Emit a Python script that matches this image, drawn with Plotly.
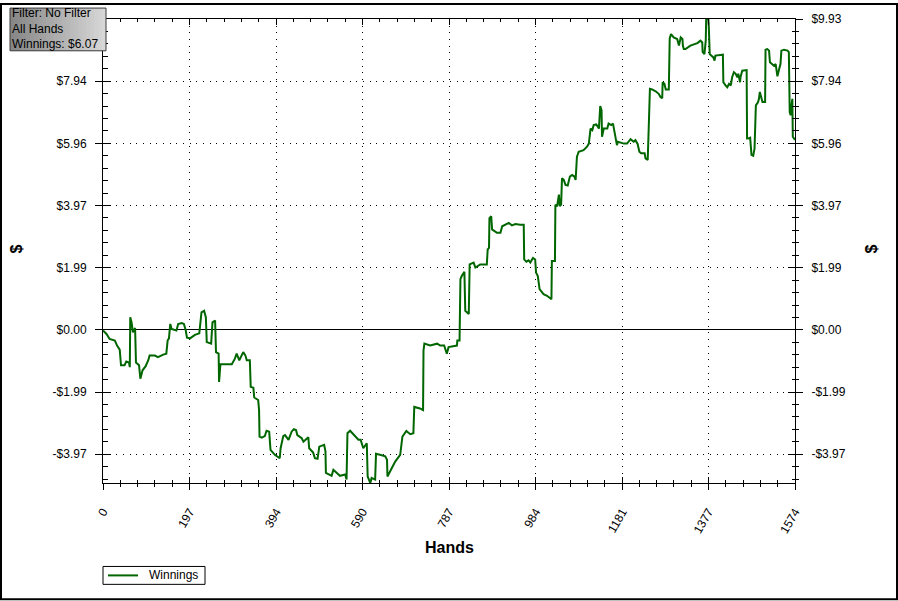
import plotly.graph_objects as go

# ---------------- data ----------------
hands = [0, 8, 15, 27, 32, 38, 41, 49, 53, 59, 61, 62, 65, 68, 73, 75, 82, 85, 90, 97,
         103, 106, 118, 125, 137, 144, 147, 150, 153, 156, 167, 171, 179, 184, 188, 191, 198, 209, 219, 224,
         230, 234, 236, 246, 249, 255, 257, 263, 264, 267, 293, 300, 304, 310, 319, 324, 327, 334, 336, 342,
         344, 353, 355, 356, 361, 368, 372, 378, 381, 391, 402, 404, 410, 414, 422, 429, 434, 439, 442, 452,
         456, 463, 467, 469, 478, 482, 488, 492, 503, 506, 507, 520, 524, 539, 551, 554, 556, 562, 573, 581,
         586, 589, 592, 600, 602, 608, 611, 619, 621, 630, 642, 646, 647, 657, 665, 676, 678, 681, 690, 699,
         706, 708, 721, 728, 729, 731, 744, 760, 767, 776, 782, 786, 805, 806, 811, 813, 816, 822, 824, 832,
         834, 843, 847, 858, 873, 875, 878, 879, 883, 885, 896, 904, 908, 923, 930, 938, 949, 957, 958, 963,
         968, 972, 978, 983, 985, 989, 993, 1002, 1010, 1020, 1021, 1028, 1029, 1033, 1037, 1039, 1042, 1044, 1048, 1052,
         1057, 1062, 1067, 1072, 1075, 1078, 1082, 1093, 1101, 1105, 1109, 1113, 1116, 1122, 1128, 1131, 1134, 1135, 1139, 1147,
         1150, 1156, 1160, 1162, 1164, 1169, 1171, 1185, 1192, 1200, 1207, 1211, 1216, 1220, 1224, 1232, 1234, 1239, 1241, 1244,
         1249, 1257, 1264, 1268, 1272, 1273, 1277, 1280, 1287, 1289, 1292, 1298, 1306, 1310, 1314, 1318, 1319, 1321, 1325, 1336,
         1352, 1359, 1363, 1364, 1368, 1371, 1372, 1377, 1378, 1380, 1384, 1388, 1391, 1393, 1410, 1411, 1416, 1420, 1424, 1428,
         1431, 1435, 1439, 1443, 1445, 1449, 1450, 1454, 1464, 1465, 1467, 1472, 1475, 1479, 1482, 1485, 1490, 1492, 1494, 1498,
         1500, 1506, 1507, 1511, 1515, 1517, 1523, 1526, 1530, 1532, 1534, 1538, 1541, 1543, 1549, 1557, 1560, 1562, 1564, 1566,
         1568, 1569, 1572, 1574]
winnings = [-0.02, -0.13, -0.29, -0.34, -0.50, -0.63, -1.13, -1.13, -1.01, -1.04, -1.19, 0.40, 0.24, -0.08, 0.06, -1.04, -1.13, -1.56, -1.29, -1.16,
            -0.97, -0.82, -0.82, -0.87, -0.79, -0.76, -0.34, -0.27, 0.19, 0.03, -0.02, 0.19, 0.22, 0.19, 0.00, -0.25, -0.27, -0.16, -0.11, 0.56,
            0.61, 0.40, -0.39, -0.44, 0.24, 0.30, -0.71, -0.76, -1.66, -1.10, -1.10, -0.92, -0.76, -0.97, -0.71, -0.82, -0.97, -0.97, -1.82, -1.85,
            -2.16, -2.24, -2.56, -3.41, -3.44, -3.39, -3.22, -3.25, -3.83, -3.99, -4.10, -3.78, -3.39, -3.36, -3.51, -3.25, -3.17, -3.20, -3.36, -3.46,
            -3.57, -3.46, -3.43, -3.78, -3.92, -4.10, -4.12, -3.73, -3.67, -3.88, -4.57, -4.66, -4.47, -4.66, -4.62, -4.78, -3.30, -3.22, -3.39, -3.51,
            -3.51, -3.67, -3.78, -3.62, -4.68, -4.89, -4.73, -4.78, -3.96, -3.99, -4.04, -4.15, -4.68, -4.41, -4.20, -3.99, -3.78, -3.41, -3.23, -3.33,
            -3.30, -2.46, -2.51, -2.56, -0.66, -0.44, -0.50, -0.44, -0.50, -0.50, -0.76, -0.55, -0.50, -0.34, -0.34, 1.62, 1.72, 1.86, 0.61, 0.51,
            2.09, 2.15, 1.99, 2.09, 2.09, 2.57, 2.62, 3.57, 3.63, 3.21, 3.10, 3.10, 3.31, 3.42, 3.34, 3.38, 3.36, 3.36, 2.25, 2.18,
            2.22, 2.15, 2.30, 2.25, 1.83, 1.72, 1.30, 1.14, 1.09, 0.98, 2.20, 2.20, 4.00, 3.95, 4.32, 3.95, 4.00, 4.84, 4.79, 4.63,
            4.61, 4.90, 4.95, 4.90, 4.79, 5.53, 5.69, 5.74, 5.85, 5.95, 6.43, 6.38, 6.54, 6.56, 6.43, 7.15, 7.01, 6.17, 6.43, 6.43,
            6.59, 6.54, 6.59, 6.43, 6.17, 5.90, 6.01, 5.95, 5.95, 6.09, 6.01, 6.06, 5.94, 5.69, 5.64, 5.64, 5.48, 5.43, 6.33, 7.70,
            7.68, 7.62, 7.54, 7.44, 7.40, 7.91, 7.86, 7.68, 7.68, 9.31, 9.45, 9.34, 9.29, 9.08, 9.34, 9.29, 9.08, 8.97, 8.97, 9.08,
            9.16, 9.24, 9.18, 8.87, 8.81, 9.24, 9.93, 9.93, 9.66, 8.81, 8.76, 8.71, 8.60, 8.76, 8.79, 7.91, 7.81, 7.75, 7.86, 7.81,
            8.07, 8.23, 8.18, 8.07, 8.18, 7.91, 8.07, 8.28, 8.30, 6.11, 6.11, 6.14, 5.59, 5.56, 5.80, 7.17, 7.28, 7.38, 7.60, 7.33,
            7.28, 7.28, 8.95, 8.97, 8.92, 8.55, 8.49, 8.44, 8.49, 8.23, 8.10, 8.33, 8.49, 8.92, 8.95, 8.92, 8.87, 6.96, 6.86, 7.17,
            7.38, 6.17, 6.11, 6.07]

x_tick_vals = [0, 197, 394, 590, 787, 984, 1181, 1377, 1574]
x_tick_text = ["0", "197", "394", "590", "787", "984", "1181", "1377", "1574"]
y_tick_vals = [-3.972, -1.986, 0.0, 1.986, 3.972, 5.958, 7.944, 9.93]
y_tick_text = ["-$3.97", "-$1.99", "$0.00", "$1.99", "$3.97", "$5.96", "$7.94", "$9.93"]
x_range = [0, 1574]
y_range = [-4.89, 9.93]
x_minor_step = 39.35
y_minor_step = 0.3972
series_name = "Winnings"
x_title = "Hands"
y_title = "$"
filter_lines = ["Filter: No Filter", "All Hands", "Winnings: $6.07"]

# the top-left label is hidden under the filter box in the original
y_tick_text_left = y_tick_text[:-1] + [""]

# ---------------- layout geometry ----------------
W, H = 898, 601
ML, MR, MT, MB = 103, 103, 16, 118
PW, PH = W - ML - MR, H - MT - MB
FONT = "Liberation Sans, Arial, sans-serif"
GREEN = "#006600"


def fx(px):
    return (px - ML) / PW


def fy(py):
    return (H - MB - py) / PH


fig = go.Figure()
fig.add_trace(go.Scatter(x=hands, y=winnings, mode="lines", name=series_name,
                         line=dict(color=GREEN, width=2), xaxis="x", yaxis="y",
                         hoverinfo="x+y", showlegend=False))
# helper (empty) traces so the extra tick-only axes are drawn
fig.add_trace(go.Scatter(x=[], y=[], xaxis="x2", yaxis="y2", showlegend=False, hoverinfo="skip"))
fig.add_trace(go.Scatter(x=[], y=[], xaxis="x3", yaxis="y3", showlegend=False, hoverinfo="skip"))
fig.add_trace(go.Scatter(x=[], y=[], xaxis="x", yaxis="y4", showlegend=False, hoverinfo="skip"))

tickfont = dict(family=FONT, size=12, color="black")
DOT = "1px,5.67px"

common_x = dict(range=x_range, tickmode="array", tickvals=x_tick_vals, ticktext=x_tick_text,
                tickcolor="black", tickwidth=1, zeroline=False)
common_y = dict(range=y_range, tickmode="array", tickvals=y_tick_vals,
                tickcolor="black", tickwidth=1)

fig.update_layout(
    width=W, height=H,
    margin=dict(l=ML, r=MR, t=MT, b=MB, pad=0),
    paper_bgcolor="white", plot_bgcolor="white",
    font=dict(family=FONT, size=12, color="black"),
    showlegend=False,
    xaxis=dict(**common_x, side="bottom", ticks="outside", ticklen=6,
               tickangle=-60, tickfont=tickfont, ticklabelstandoff=10,
               showgrid=True, gridcolor="black", gridwidth=1, griddash=DOT,
               showline=True, linecolor="black", linewidth=1, mirror=True,
               minor=dict(ticks="outside", ticklen=3, tick0=0, dtick=x_minor_step,
                          tickcolor="black", showgrid=False)),
    xaxis2=dict(**common_x, overlaying="x", side="top", ticks="inside", ticklen=6,
                showticklabels=False, showgrid=False, showline=False,
                minor=dict(ticks="inside", ticklen=3, tick0=0, dtick=x_minor_step,
                           tickcolor="black", showgrid=False)),
    xaxis3=dict(**common_x, overlaying="x", side="bottom", ticks="inside", ticklen=6,
                showticklabels=False, showgrid=False, showline=False,
                minor=dict(ticks="inside", ticklen=3, tick0=0, dtick=x_minor_step,
                           tickcolor="black", showgrid=False)),
    yaxis=dict(**common_y, ticktext=y_tick_text_left, side="left", ticks="outside", ticklen=7,
               tickfont=tickfont, ticklabelstandoff=6,
               showgrid=True, gridcolor="black", gridwidth=1, griddash=DOT,
               zeroline=True, zerolinecolor="black", zerolinewidth=1,
               showline=True, linecolor="black", linewidth=1, mirror=True),
    yaxis2=dict(**common_y, ticktext=y_tick_text, overlaying="y", side="right", ticks="outside",
                ticklen=7, tickfont=tickfont, ticklabelstandoff=6, showgrid=False, zeroline=False,
                showline=False,
                minor=dict(ticks="outside", ticklen=3, tick0=0, dtick=y_minor_step,
                           tickcolor="black", showgrid=False)),
    yaxis3=dict(**common_y, ticktext=y_tick_text, overlaying="y", side="left", ticks="inside",
                ticklen=7, showticklabels=False, showgrid=False, zeroline=False, showline=False,
                minor=dict(ticks="inside", ticklen=5, tick0=0, dtick=y_minor_step,
                           tickcolor="black", showgrid=False)),
    yaxis4=dict(**common_y, ticktext=y_tick_text, overlaying="y", side="right", ticks="inside",
                ticklen=7, showticklabels=False, showgrid=False, zeroline=False, showline=False,
                minor=dict(ticks="inside", ticklen=3, tick0=0, dtick=y_minor_step,
                           tickcolor="black", showgrid=False)),
)

shapes = []
# gradient filter box (top-left)
bx0, bx1, by0, by1 = 10, 106, 5, 48
n = 24
for i in range(n):
    t = i / (n - 1)
    g = int(135 + t * (215 - 135))
    shapes.append(dict(type="rect", xref="paper", yref="paper",
                       x0=fx(bx0 + (bx1 - bx0) * i / n), x1=fx(bx0 + (bx1 - bx0) * (i + 1) / n),
                       y0=fy(by1), y1=fy(by0), line=dict(width=0),
                       fillcolor=f"rgb({g},{g},{g})", layer="above"))
shapes.append(dict(type="rect", xref="paper", yref="paper", x0=fx(bx0), x1=fx(bx1),
                   y0=fy(by1), y1=fy(by0), line=dict(color="#3a3a3a", width=1),
                   fillcolor="rgba(0,0,0,0)", layer="above"))
# legend box (drawn by hand to match the compact original)
lx0, lx1, ly0, ly1 = 103, 205, 567, 585
shapes.append(dict(type="rect", xref="paper", yref="paper", x0=fx(lx0), x1=fx(lx1),
                   y0=fy(ly1), y1=fy(ly0), line=dict(color="black", width=1),
                   fillcolor="white", layer="above"))
shapes.append(dict(type="line", xref="paper", yref="paper", x0=fx(108), x1=fx(138),
                   y0=fy(576), y1=fy(576), line=dict(color=GREEN, width=2), layer="above"))
# outer frame around the whole picture
shapes.append(dict(type="rect", xref="paper", yref="paper", x0=fx(1), x1=fx(897),
                   y0=fy(600), y1=fy(1), line=dict(color="black", width=2),
                   fillcolor="rgba(0,0,0,0)", layer="above"))
fig.update_layout(shapes=shapes)

annotations = []
annotations.append(dict(text="<br>".join(filter_lines), xref="paper", yref="paper",
                        x=fx(11), y=fy((by0 + by1) / 2 - 0.5),
                        xanchor="left", yanchor="middle", align="left", showarrow=False, borderpad=0,
                        font=dict(family=FONT, size=12, color="black")))
annotations.append(dict(text=series_name, xref="paper", yref="paper", x=fx(148), y=fy(576),
                        xanchor="left", yanchor="middle", showarrow=False, borderpad=0,
                        font=dict(family=FONT, size=12, color="black")))
annotations.append(dict(text=f"<b>{x_title}</b>", xref="paper", yref="paper", x=0.5, y=fy(548),
                        xanchor="center", yanchor="middle", showarrow=False,
                        font=dict(family=FONT, size=16, color="black")))
annotations.append(dict(text=f"<b>{y_title}</b>", xref="paper", yref="paper", x=fx(17), y=fy(248),
                        xanchor="center", yanchor="middle", showarrow=False, textangle=-90,
                        font=dict(family=FONT, size=16, color="black")))
annotations.append(dict(text=f"<b>{y_title}</b>", xref="paper", yref="paper", x=fx(872), y=fy(248),
                        xanchor="center", yanchor="middle", showarrow=False, textangle=-90,
                        font=dict(family=FONT, size=16, color="black")))
fig.update_layout(annotations=annotations)

fig.write_html("out.html", config={"displayModeBar": False},
               post_script="document.body.style.margin='0';document.body.style.padding='0';"
                           "document.body.style.overflow='hidden';")
